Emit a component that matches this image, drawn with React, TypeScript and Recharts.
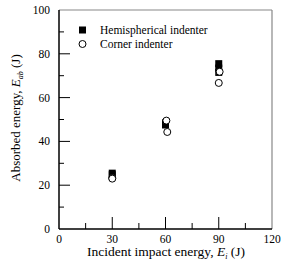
import { Scatter, ScatterChart, XAxis, YAxis, ReferenceLine } from "recharts";

const hemiX = [30, 30, 60, 60, 90, 90, 90];
const hemiY = [25.5, 24.8, 48.5, 47.5, 75.5, 73.5, 71.5];
const cornerX = [30, 30, 60.5, 61, 90.5, 90];
const cornerY = [23.3, 23, 49.5, 44.3, 71.8, 66.7];

const xTicks = [0, 15, 30, 45, 60, 75, 90, 105, 120];
const xMajor = [0, 30, 60, 90, 120];
const yTicks = [0, 10, 20, 30, 40, 50, 60, 70, 80, 90, 100];
const yMajor = [0, 20, 40, 60, 80, 100];

const hemi = hemiX.map((x, i) => ({ x, y: hemiY[i] }));
const corner = cornerX.map((x, i) => ({ x, y: cornerY[i] }));

const W = 281;
const H = 273;
const PLOT_LEFT = 59;
const PLOT_BOTTOM = 229;
const FONT = '"Liberation Serif", "Times New Roman", serif';

const XTick = (p: any) => {
  const v = p.payload.value;
  const major = xMajor.includes(v);
  return (
    <g>
      {v !== 0 && v !== 120 && (
        <line x1={p.x} x2={p.x} y1={PLOT_BOTTOM} y2={PLOT_BOTTOM - (major ? 12 : 6)} stroke="#000" strokeWidth={1} />
      )}
      {major && (
        <text x={p.x} y={243} textAnchor="middle" fontSize={11.5} fontFamily={FONT} fill="#000">
          {v}
        </text>
      )}
    </g>
  );
};

const YTick = (p: any) => {
  const v = p.payload.value;
  const major = yMajor.includes(v);
  return (
    <g>
      {v !== 0 && v !== 100 && (
        <line x1={PLOT_LEFT} x2={PLOT_LEFT + (major ? 11 : 5)} y1={p.y} y2={p.y} stroke="#000" strokeWidth={1} />
      )}
      {major && (
        <text x={50} y={p.y + 4} textAnchor="end" fontSize={11.5} fontFamily={FONT} fill="#000">
          {v}
        </text>
      )}
    </g>
  );
};

const Square = (p: any) => <rect x={p.cx - 3.5} y={p.cy - 3.5} width={7} height={7} fill="#000" />;
const Ring = (p: any) => <circle cx={p.cx} cy={p.cy} r={3.5} fill="#fff" stroke="#000" strokeWidth={1} />;

const LegendBox = () => (
  <div
    style={{
      position: "absolute",
      left: 78,
      top: 23,
      fontFamily: FONT,
      fontSize: 11.5,
      lineHeight: "14px",
      color: "#000",
      whiteSpace: "nowrap",
    }}
  >
    <div style={{ display: "flex", alignItems: "center" }}>
      <svg width={22} height={14}>
        <rect x={1} y={3.5} width={7} height={7} fill="#000" />
      </svg>
      <span>Hemispherical indenter</span>
    </div>
    <div style={{ display: "flex", alignItems: "center" }}>
      <svg width={22} height={14}>
        <circle cx={4.5} cy={7} r={3.5} fill="#fff" stroke="#000" />
      </svg>
      <span>Corner indenter</span>
    </div>
  </div>
);

export default function App() {
  return (
    <div style={{ position: "absolute", left: 0, top: 0, width: W, height: H, background: "#fff" }}>
      <ScatterChart width={W} height={H} margin={{ top: 10, right: 9, left: 19, bottom: 0 }}>
        <XAxis
          type="number"
          dataKey="x"
          domain={[0, 120]}
          ticks={xTicks}
          interval={0}
          tickLine={false}
          tick={<XTick />}
          axisLine={{ stroke: "#000", strokeWidth: 1.5 }}
          height={44}
          label={() => (
            <text x={166} y={256} textAnchor="middle" fontSize={13.5} fontFamily={FONT} fill="#000">
              Incident impact energy, <tspan fontStyle="italic">E</tspan>
              <tspan fontSize={8} fontStyle="italic" dy={3}>i</tspan>
              <tspan dy={-3}> (J)</tspan>
            </text>
          )}
        />
        <YAxis
          type="number"
          dataKey="y"
          domain={[0, 100]}
          ticks={yTicks}
          interval={0}
          tickLine={false}
          tick={<YTick />}
          axisLine={{ stroke: "#000", strokeWidth: 1.5 }}
          width={40}
          label={() => (
            <text
              x={20}
              y={118}
              transform="rotate(-90 20 118)"
              textAnchor="middle"
              fontSize={13}
              fontFamily={FONT}
              fill="#000"
            >
              Absorbed energy, <tspan fontStyle="italic">E</tspan>
              <tspan fontSize={8} fontStyle="italic" dy={3}>ab</tspan>
              <tspan dy={-3}> (J)</tspan>
            </text>
          )}
        />
        <ReferenceLine y={100} stroke="#888" strokeWidth={1.2} />
        <ReferenceLine x={120} stroke="#888" strokeWidth={1.2} />
        <Scatter name="Hemispherical indenter" data={hemi} shape={<Square />} isAnimationActive={false} />
        <Scatter name="Corner indenter" data={corner} shape={<Ring />} isAnimationActive={false} />
      </ScatterChart>
      <LegendBox />
    </div>
  );
}
